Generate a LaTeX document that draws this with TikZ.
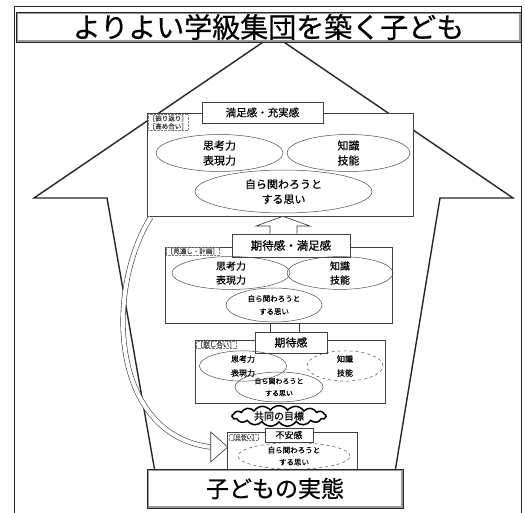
\documentclass[tikz,border=0pt]{standalone}
\usepackage{fontspec}
\setmainfont{Noto Sans CJK JP}[FakeBold=0.6]
\usetikzlibrary{shapes.geometric,shapes.symbols,calc}
\begin{document}
\begin{tikzpicture}[x=1pt,y=-1pt,
  box/.style={draw=black!75, fill=white, line width=0.6pt, inner sep=0pt, rectangle},
  ell/.style={ellipse, draw=black!70, line width=0.5pt, inner sep=0pt, align=center},
  fs/.style 2 args={font=\fontsize{#1}{#2}\selectfont},
  tinylab/.style={text=black!75, inner sep=0.6pt, anchor=north west, draw=black!50, densely dotted, align=left},
  bigframe/.style={draw=black!85, line width=1.4pt, line join=miter},
  hollow/.style={draw=black!80, fill=white, line width=0.6pt, line join=miter},
  titlebox/.style={rectangle, fill=white, draw=black!40, line width=2.4pt, inner sep=0pt},
]
\useasboundingbox (0,0) rectangle (525,513);
\fill[white] (0,0) rectangle (525,513);
% outer frame
\draw[line width=1pt, black!85] (14,513) -- (14,7) -- (521,7) -- (521,513);

% big arrow outline
\coordinate (apex) at (273.5,35);
\draw[bigframe] (155,472) -- (107,198) -- (34,198) -- (apex) -- (513,198) -- (440,198) -- (395,472);

% ---------- top group ----------
\node[box, minimum width=266pt, minimum height=103pt] (top) at (280,164.5) {};
\node[box, minimum width=121pt, minimum height=21pt, fs={10.5}{12}] (h1) at (262.5,112.5) {満足感・充実感};
\node[tinylab, fs={6.5}{8}] (lab1) at (148,114.5) {［振り返り］\\［高め合い］};
\node[ell, minimum width=127pt, minimum height=37pt, fs={11}{15}] (e1a) at (219.5,153) {思考力\\表現力};
\node[ell, minimum width=123pt, minimum height=37pt, fs={11}{15}] (e1b) at (348.5,153) {知識\\技能};
\node[ell, minimum width=177pt, minimum height=43pt, fs={11}{15}] (e1c) at (283.5,191.5) {自ら関わろうと\\する思い};

% ---------- second group ----------
\node[box, minimum width=227pt, minimum height=76pt] (g2) at (278.5,285) {};
\node[box, minimum width=118pt, minimum height=23pt, fs={11.5}{13}] (h2) at (291,245.5) {期待感・満足感};
\node[tinylab, fs={6.5}{7.5}] (lab2) at (166,247.5) {［見通し・計画］};
\node[ell, minimum width=118pt, minimum height=30pt, fs={10}{14}] (e2a) at (231,273) {思考力\\表現力};
\node[ell, minimum width=106pt, minimum height=30pt, fs={10}{14}] (e2b) at (340,273) {知識\\技能};
\node[ell, minimum width=96pt, minimum height=34pt, fs={7.5}{13}] (e2c) at (274,305) {自ら関わろうと\\する思い};

% hollow up arrow from second header to top group
\draw[hollow] (270,0 |- h2.north) -- (270,226) -- (256,226) -- (283,0 |- top.south) -- (310,226) -- (297,226) -- (297,0 |- h2.north);

% ---------- third group ----------
\node[box, minimum width=190pt, minimum height=63pt] (g3) at (290,371.5) {};
\draw[hollow] (270,0 |- g2.south) rectangle (299,332);
\node[box, minimum width=72pt, minimum height=21pt, fs={11}{12}] (h3) at (291,342.5) {期待感};
\node[tinylab, fs={6.5}{7.5}] (lab3) at (196,341) {［話し合い］};
\node[ell, minimum width=87pt, minimum height=25pt, fs={8}{14}] (e3a) at (243,366) {思考力\\表現力};
\node[ell, dashed, minimum width=76pt, minimum height=25pt, fs={8}{14}] (e3b) at (345,366) {知識\\技能};
\node[ell, minimum width=88pt, minimum height=30pt, fs={7}{12}] (e3c) at (279,387) {自ら関わろうと\\する思い};

% cloud
\node[cloud, cloud puffs=17, cloud puff arc=110, aspect=5, draw=black, line width=1.5pt, fill=white, inner sep=0pt, minimum width=94pt, minimum height=19pt, fs={10}{11}] (goal) at (279,416) {共同の目標};

% ---------- bottom group ----------
\node[box, minimum width=130pt, minimum height=38pt] (g4) at (292,451) {};
\node[box, minimum width=48pt, minimum height=14pt, fs={9}{10}] (h4) at (289,435) {不安感};
\node[tinylab, fs={5.5}{6.5}] (lab4) at (229,434) {［出会い］};
\node[ell, dashed, minimum width=112pt, minimum height=23pt, fs={7.5}{12}] (e4) at (294,456) {自ら関わろうと\\する思い};

% curved hollow arrow from top group down to bottom group
\coordinate (cstart) at ($(top.south west)+(4,1)$);
\coordinate (cend) at ($(g4.west)+(-16,-4)$);
\draw[draw=black!75, line width=0.6pt, double=white, double distance=4pt] (cstart) .. controls (105,290) and (110,435) .. (cend);
\draw[hollow] ($(cend)+(0,-15)$) -- ($(cend)+(17,0)$) -- ($(cend)+(0,15)$) -- cycle;

% ---------- bottom title ----------
\node[titlebox, minimum width=254pt, minimum height=37pt, fs={23}{25}] (base) at (275,488.5) {子どもの実態};
\draw[black!85, line width=0.5pt] (base.north west) rectangle (base.south east);

% ---------- top title ----------
\node[titlebox, minimum width=503pt, minimum height=28pt, fs={28}{28}] (title) at (268.5,27) {よりよい学級集団を築く子ども};
\draw[black!85, line width=0.5pt] (title.north west) rectangle (title.south east);
\end{tikzpicture}
\end{document}
